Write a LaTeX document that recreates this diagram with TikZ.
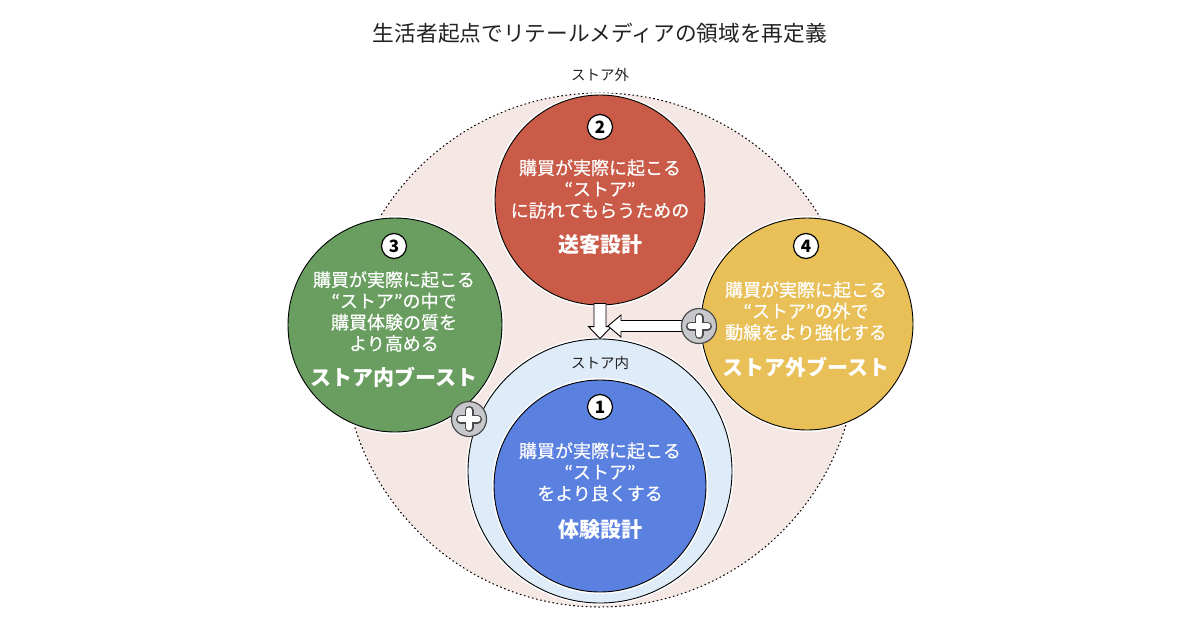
\documentclass[tikz,border=0pt]{standalone}
\usepackage{fontspec}
\setmainfont{Noto Sans CJK JP}
\newfontfamily\medfont{Noto Sans CJK JP}[FakeBold=0.4]
\usetikzlibrary{calc}
\definecolor{pinkbg}{HTML}{F5E7E3}
\definecolor{lightblue}{HTML}{DEEBF8}
\definecolor{blueC}{HTML}{5A80E0}
\definecolor{redC}{HTML}{C95B48}
\definecolor{greenC}{HTML}{699E60}
\definecolor{yellowC}{HTML}{E9BF57}
\definecolor{plusgray}{HTML}{C6C8CC}
\definecolor{plusdark}{HTML}{4A4A4A}
\definecolor{ink}{HTML}{222222}
\begin{document}
\begin{tikzpicture}[x=1pt,y=-1pt,
  circ/.style={circle, inner sep=0pt, minimum size=#1},
  halo/.style={preaction={draw=white, line width=4pt}},
  main/.style={draw=black, line width=0.9pt, halo},
  numc/.style={circle, fill=white, draw=black, line width=1.2pt, minimum size=25pt, inner sep=0pt, font=\bfseries\fontsize{17}{17}\selectfont, text=black},
  bodytxt/.style={text=white, align=center, inner sep=0pt, font=\medfont\fontsize{18}{21.3}\selectfont},
  headtxt/.style={text=white, inner sep=0pt, font=\bfseries\fontsize{21}{25}\selectfont},
  lbl/.style={text=ink, inner sep=0pt, font=\fontsize{14.5}{16}\selectfont},
  hollow/.style={fill=white, draw=black, line width=0.9pt, line join=miter},
  plusc/.style={circle, fill=plusgray, draw=plusdark, line width=1.2pt, minimum size=35pt, inner sep=0pt}
]
\useasboundingbox (0,0) rectangle (1200,630);

% title
\node[text=ink, inner sep=0pt, font=\fontsize{21.7}{24}\selectfont] (title) at (600,33) {生活者起点でリテールメディアの領域を再定義};

% outer zone
\node[circ=514pt, fill=pinkbg, draw=black, line width=1pt, dash pattern=on 1.6pt off 2.6pt] (outer) at (600,350) {};
\node[lbl] (outlbl) at (600,75) {ストア外};

% store zone
\node[circ=264pt, fill=lightblue, main] (store) at (600,471) {};
\node[lbl] (inlbl) at (600,363) {ストア内};

% main circles
\node[circ=212pt, fill=blueC, main] (c1) at (600,486) {};
\node[circ=210pt, fill=redC, main] (c2) at (600,200) {};
\node[circ=214pt, fill=greenC, main] (c3) at (395,325) {};
\node[circ=212pt, fill=yellowC, main] (c4) at (807,324) {};

% vertical hollow arrow
\draw[hollow] ($(c2.south)+(-6,-2)$) -- ($(store.north)+(-6,-12)$) -- ($(store.north)+(-11.5,-12)$) -- (store.north) -- ($(store.north)+(11.5,-12)$) -- ($(store.north)+(6,-12)$) -- ($(c2.south)+(6,-2)$) -- cycle;

% horizontal hollow arrow
\coordinate (htip) at (608,326);
\coordinate (p4c) at (699,326);
\draw[hollow] (htip) -- ($(htip)+(13,-11)$) -- ($(htip)+(13,-5.5)$) -- ($(p4c)+(0,-5.5)$) -- ($(p4c)+(0,5.5)$) -- ($(htip)+(13,5.5)$) -- ($(htip)+(13,11)$) -- cycle;

% plus badges
\node[plusc] (p4) at (p4c) {};
\node[plusc] (p3) at (469,419) {};
\foreach \p in {p4,p3}{
  \draw[plusdark, line width=9pt, line cap=round] ($(\p)+(-8.5,0)$) -- ($(\p)+(8.5,0)$);
  \draw[plusdark, line width=9pt, line cap=round] ($(\p)+(0,-8.5)$) -- ($(\p)+(0,8.5)$);
  \draw[white, line width=6pt, line cap=round] ($(\p)+(-8.5,0)$) -- ($(\p)+(8.5,0)$);
  \draw[white, line width=6pt, line cap=round] ($(\p)+(0,-8.5)$) -- ($(\p)+(0,8.5)$);
}

% number badges
\node[numc] (n1) at (600,407) {1};
\node[numc] (n2) at (600,127) {2};
\node[numc] (n3) at (394,246) {3};
\node[numc] (n4) at (806,246) {4};

% texts
\node[bodytxt] (t2) at (600,189) {購買が実際に起こる\\“ストア”\\に訪れてもらうための};
\node[headtxt] (h2) at (600,245) {送客設計};

\node[bodytxt] (t3) at (394,311.5) {購買が実際に起こる\\“ストア”の中で\\購買体験の質を\\より高める};
\node[headtxt] (h3) at (394,377) {ストア内ブースト};

\node[bodytxt] (t4) at (806,311) {購買が実際に起こる\\“ストア”の外で\\動線をより強化する};
\node[headtxt] (h4) at (806,367) {ストア外ブースト};

\node[bodytxt] (t1) at (600,472) {購買が実際に起こる\\“ストア”\\をより良くする};
\node[headtxt] (h1) at (600,530) {体験設計};
\end{tikzpicture}
\end{document}
